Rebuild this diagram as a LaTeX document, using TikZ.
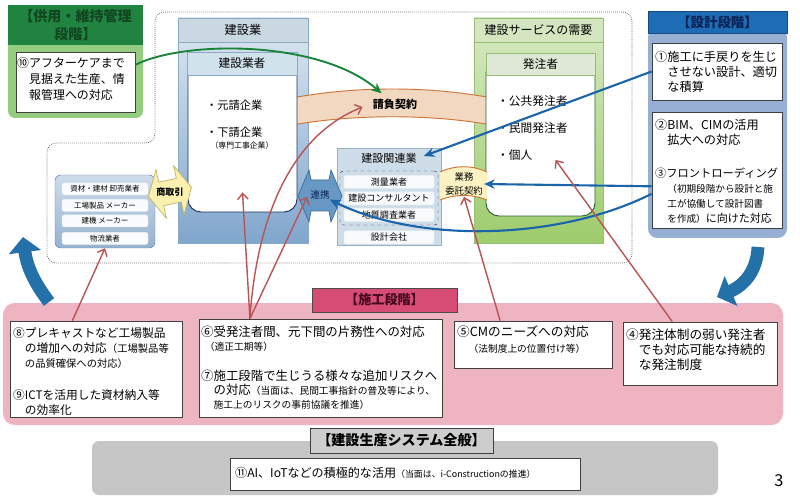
\documentclass[tikz,border=0pt]{standalone}
\usepackage{fontspec}
\setmainfont{Noto Sans CJK JP}
\usetikzlibrary{positioning,fit,calc,arrows.meta}

\definecolor{grnDark}{RGB}{32,132,64}
\definecolor{grnBody}{RGB}{148,205,128}
\definecolor{grnText}{RGB}{18,70,32}
\definecolor{blueDark}{RGB}{30,108,182}
\definecolor{blueBody}{RGB}{150,175,210}
\definecolor{blueText}{RGB}{10,36,86}
\definecolor{pinkBody}{RGB}{238,180,194}
\definecolor{pinkHead}{RGB}{214,76,116}
\definecolor{pinkText}{RGB}{70,10,30}
\definecolor{grayBody}{RGB}{198,198,198}
\definecolor{grayHead}{RGB}{205,205,205}
\definecolor{arrRed}{RGB}{186,84,84}
\definecolor{arrBlue}{RGB}{26,100,170}
\definecolor{arrGreen}{RGB}{24,132,56}
\definecolor{bigBlue}{RGB}{36,112,168}
\definecolor{kenTop}{RGB}{222,232,241}
\definecolor{kenBot}{RGB}{128,166,205}
\definecolor{kenHead}{RGB}{202,216,226}
\definecolor{kenHead2}{RGB}{208,226,236}
\definecolor{kenLine}{RGB}{140,170,198}
\definecolor{navyLine}{RGB}{30,50,95}
\definecolor{juTop}{RGB}{216,233,196}
\definecolor{juBot}{RGB}{158,204,108}
\definecolor{juHead}{RGB}{212,229,192}
\definecolor{juHead2}{RGB}{222,232,212}
\definecolor{juLine}{RGB}{150,190,120}
\definecolor{grnLine}{RGB}{40,100,50}
\definecolor{bandOr}{RGB}{242,216,192}
\definecolor{bandLine}{RGB}{206,116,56}
\definecolor{bandYel}{RGB}{252,242,196}
\definecolor{yelArr}{RGB}{250,240,176}
\definecolor{yelLine}{RGB}{196,178,100}
\definecolor{linkBlue}{RGB}{104,152,196}
\definecolor{linkLine}{RGB}{60,108,158}
\definecolor{kanFill}{RGB}{206,221,232}
\definecolor{kanLine}{RGB}{150,176,200}
\definecolor{supTop}{RGB}{206,220,234}
\definecolor{supBot}{RGB}{150,178,208}
\definecolor{supLine}{RGB}{100,132,172}

\newcommand\fsz[2]{\fontsize{#1pt}{#2pt}\selectfont}

\tikzset{
  area/.style={inner sep=0pt},
  wbox/.style={inner sep=0pt, draw=black!75, fill=white, line width=0.7pt},
  lbl/.style={inner sep=0pt, align=left, anchor=north west},
  supitem/.style={inner sep=0pt, minimum width=25.8mm, minimum height=3.6mm, fill=white!88!supTop, draw=white!60!supTop, rounded corners=2pt, font=\fsz{6.4}{8}},
  kanitem/.style={inner sep=0pt, minimum width=27mm, minimum height=3.9mm, fill=white!85!kanFill, draw=white!60!kanFill, rounded corners=2pt, font=\fsz{7.7}{9}},
  redarr/.style={draw=arrRed, line width=1.2pt, -{Straight Barb[length=5pt,width=9pt]}},
  bluearr/.style={draw=arrBlue, line width=1.8pt, -{Stealth[length=9pt,width=8pt]}},
  grnarr/.style={draw=arrGreen, line width=1.6pt, -{Stealth[length=9pt,width=8pt]}},
  bigarr/.style={draw=bigBlue, line width=11pt, -{Triangle[length=13pt,width=27pt]}},
  bandedge/.style={draw=bandLine, line width=0.8pt},
}

\begin{document}
\begin{tikzpicture}[x=0.3mm, y=-0.3mm]
\useasboundingbox (0,0) rectangle (800,499);
\fill[white] (0,0) rectangle (800,499);

% dotted frame
\draw[densely dotted, black!55, line width=0.7pt, rounded corners=8pt]
  (155,143) -- (155,12) -- (632,12) -- (632,263) -- (47,263) -- (47,143) -- cycle;

% construction industry / demand
\node (kenbody) [area, fit={(178,18) (308,243)}, draw=kenLine, top color=kenTop, bottom color=kenBot] {};
\node (kenhead) [area, fit={(178,18) (308,42)}, draw=kenLine, fill=kenHead] {};
\node (kenheadtxt) [font=\fsz{10.4}{12}] at (kenhead) {建設業};
\node (jubody) [area, fit={(474,18) (603,243)}, draw=juLine, top color=juTop, bottom color=juBot] {};
\node (juhead) [area, fit={(474,18) (603,42)}, draw=juLine, fill=juHead] {};
\node (juheadtxt) [font=\fsz{10.2}{12}] at (juhead) {建設サービスの需要};

% contract band
\fill[bandOr] (292,98) .. controls (355,86) and (430,86) .. (492,98) -- (492,125) .. controls (430,114) and (355,114) .. (292,125) -- cycle;
\draw[bandedge] (292,98) .. controls (355,86) and (430,86) .. (492,98);
\draw[bandedge] (492,125) .. controls (430,114) and (355,114) .. (292,125);
\node (ukeoi) [inner sep=1pt, font=\fsz{9.4}{11}\bfseries] at (395,104) {請負契約};

\node (gyosha) [area, fit={(188,60) (297,212)}, draw=navyLine, fill=white, line width=0.8pt, rounded corners=11pt] {};
\node (gyoshahead) [area, fit={(187,52) (297,75)}, draw=kenLine, fill=kenHead2] {};
\node (gyoshatxt) [font=\fsz{10}{12}] at (gyoshahead) {建設業者};
\node (hachu) [area, fit={(486,60) (595,216)}, draw=grnLine, fill=white, line width=0.8pt, rounded corners=11pt] {};
\node (hachuhead) [area, fit={(486,53) (595,75)}, draw=juLine, fill=juHead2] {};
\node (hachutxt) [font=\fsz{10}{12}] at (hachuhead) {発注者};

\node (moto) [anchor=west, inner sep=0pt, font=\fsz{9.6}{12}] at (206,105) {・元請企業};
\node (shita) [anchor=west, inner sep=0pt, font=\fsz{9.6}{12}] at (206,132) {・下請企業};
\node (senmon) [inner sep=0pt, font=\fsz{6.7}{8}] at (242,146) {（専門工事企業）};

\node (kokyo) [anchor=west, inner sep=0pt, font=\fsz{10}{12}] at (497,101) {・公共発注者};
\node (minkan) [anchor=west, inner sep=0pt, font=\fsz{10}{12}] at (497,128) {・民間発注者};
\node (kojin) [anchor=west, inner sep=0pt, font=\fsz{10}{12}] at (497,155) {・個人};

% related industries
\node (kanrenbox) [area, fit={(337,148) (441,245)}, draw=kanLine, fill=kanFill] {};
\node (kanren) [inner sep=1pt, font=\fsz{9.4}{11}] at (389,158) {建設関連業};
\node (sokuryo) [kanitem] at (389,182) {測量業者};
\node (consul) [kanitem, below=0.9mm of sokuryo] {建設コンサルタント};
\node (chishitsu) [kanitem, below=0.9mm of consul] {地質調査業者};
\node (sekkeigaisha) [kanitem, below=2.7mm of chishitsu] {設計会社};
\node (kanrengrp) [area, fit={(340,171) (438,225)}, draw=navyLine, dashed, rounded corners=3pt] {};

% consignment band
\fill[bandYel] (440,172) .. controls (455,165) and (472,165) .. (487,172) -- (487,200) .. controls (472,194) and (455,194) .. (440,200) -- cycle;
\draw[bandedge] (440,172) .. controls (455,165) and (472,165) .. (487,172);
\draw[bandedge] (487,200) .. controls (472,194) and (455,194) .. (440,200);
\node (gyomu) [inner sep=1pt, align=center, font=\fsz{8}{12}] at (464,184) {業務\\委託契約};

% cooperation arrow
\filldraw[fill=linkBlue, draw=linkLine, line width=0.6pt]
  (298,196) -- (309,170) -- (311,180) -- (329,180) -- (331,170) -- (342,196)
  -- (331,222) -- (329,211) -- (311,211) -- (309,222) -- cycle;
\node (renkei) [inner sep=0pt, font=\fsz{8.2}{10}, text=blueText] at (320,195) {連携};

% suppliers
\node (supplier) [area, fit={(55,175) (155,248)}, draw=supLine, rounded corners=5pt, top color=supTop, bottom color=supBot] {};
\node (shizai) [supitem] at (105,189) {資材・建材 卸売業者};
\node (kojo) [supitem, below=1.2mm of shizai] {工場製品 メーカー};
\node (kenki) [supitem, below=0.9mm of kojo] {建機 メーカー};
\node (butsuryu) [supitem, below=1.5mm of kenki] {物流業者};

% trade arrow
\begin{scope}[shift={(170,192)}, rotate=12]
  \filldraw[fill=yelArr, draw=yelLine, line width=0.6pt]
    (-22,0) -- (-9,-25) -- (-9,-12) -- (9,-12) -- (9,-25) -- (22,0)
    -- (9,25) -- (9,12) -- (-9,12) -- (-9,25) -- cycle;
\end{scope}
\node (shotori) [inner sep=0pt, font=\fsz{7.7}{9}\bfseries] at (170,192) {商取引};

% maintenance stage
\node (ijibody) [area, fit={(8,40) (143,118)}, fill=grnBody, rounded corners=6pt] {};
\node (ijihead) [area, fit={(8,5) (143,45)}, fill=grnDark] {};
\node (ijiheadtxt) [align=center, text=grnText, font=\fsz{12}{15.3}\bfseries] at (ijihead) {【供用・維持管理\\段階】};
\node (ten) [wbox, fit={(16,52) (135,112)}] {};
\node (tentxt) [lbl, font=\fsz{10.2}{13.6}] at (17,57) {⑩アフターケアまで\\\hspace*{1em}見据えた生産、情\\\hspace*{1em}報管理への対応};

% design stage
\node (sekkeibody) [area, fit={(648,28) (787,238)}, fill=blueBody, rounded corners=8pt] {};
\node (sekkeihead) [area, fit={(648,11) (787,33)}, fill=blueDark, draw=blueDark!70!black] {};
\node (sekkeiheadtxt) [text=blueText, font=\fsz{11.5}{13}\bfseries] at (sekkeihead) {【設計段階】};
\node (design1) [wbox, fit={(652,43) (782,100)}] {};
\node (design1txt) [lbl, font=\fsz{10.4}{12.8}] at (655,51) {①施工に手戻りを生じ\\\hspace*{1em}させない設計、適切\\\hspace*{1em}な積算};
\node (design2) [wbox, fit={(652,112) (782,228)}] {};
\node (design2txt) [lbl, font=\fsz{10.4}{12.8}] at (655,119) {②BIM、CIMの活用\\\hspace*{1em}拡大への対応\\[15pt]
  {\fsz{9.6}{12.8}③フロントローディング}\\
  \hspace*{1em}{\fsz{8.2}{10}（初期段階から設計と施}\\
  \hspace*{1em}{\fsz{8.2}{10}工が協働して設計図書}\\
  \hspace*{1em}{\fsz{8.2}{10}を作成）}{\fsz{9.4}{12}に向けた対応}};

% construction stage
\node (pinkarea) [area, fit={(3,303) (783,425)}, fill=pinkBody, rounded corners=10pt] {};
\node (sekohead) [area, fit={(312,288) (457,312)}, fill=pinkHead, draw=black!70] {};
\node (sekoheadtxt) [text=pinkText, font=\fsz{11.2}{13}\bfseries] at (sekohead) {【施工段階】};
\node (hachi) [wbox, fit={(10,321) (182,417)}] {};
\node (hachitxt) [lbl, font=\fsz{10}{12.8}] at (13,327) {⑧プレキャストなど工場製品\\
  \hspace*{1em}の増加への対応{\fsz{8.8}{10}（工場製品等}\\
  \hspace*{1em}{\fsz{8.8}{10}の品質確保への対応）}\\[15pt]
  ⑨ICTを活用した資材納入等\\
  \hspace*{1em}の効率化};
\node (roku) [wbox, fit={(199,319) (442,417)}] {};
\node (rokutxt) [lbl, font=\fsz{10.6}{12}] at (201,326) {⑥受発注者間、元下間の片務性への対応\\
  \hspace*{0.3em}{\fsz{8.3}{10}（適正工期等）}\\[13pt]
  ⑦施工段階で生じうる様々な追加リスクへ\\
  \hspace*{1em}の対応{\fsz{8.3}{10}（当面は、民間工事指針の普及等により、}\\
  \hspace*{1em}{\fsz{8.3}{10}施工上のリスクの事前協議を推進）}};
\node (go) [wbox, fit={(454,321) (612,368)}] {};
\node (gotxt) [lbl, font=\fsz{10.8}{13}] at (457,326) {⑤CMのニーズへの対応\\
  \hspace*{0.9em}{\fsz{8.3}{10}（法制度上の位置付け等）}};
\node (yon) [wbox, fit={(623,322) (777,385)}] {};
\node (yontxt) [lbl, font=\fsz{10.8}{12.8}] at (626,329) {④発注体制の弱い発注者\\
  \hspace*{1em}でも対応可能な持続的\\
  \hspace*{1em}な発注制度};

% whole system
\node (grayarea) [area, fit={(92,441) (718,495)}, fill=grayBody, rounded corners=6pt] {};
\node (zenhead) [area, fit={(310,428) (493,453)}, fill=grayHead, draw=black!75] {};
\node (zenheadtxt) [font=\fsz{12}{14}\bfseries] at (zenhead) {【建設生産システム全般】};
\node (juichi) [wbox, fit={(230,458) (580,490)}] {};
\node (juichitxt) [anchor=west, inner sep=0pt, font=\fsz{10.3}{12}] at (235,473) {⑪AI、IoTなどの積極的な活用{\fsz{7.6}{10}（当面は、i-Constructionの推進）}};

\node (pageno) [inner sep=0pt, font=\fsz{14}{16}] at (779,481) {3};

% big cycle arrows
\draw[bigarr] (49,302) .. controls (36,285) and (27,268) .. (23,237);
\draw[bigarr] (758,247) .. controls (757,270) and (745,285) .. (717,297);

% connectors
\draw[grnarr] (ten.16) .. controls (185,40) and (320,40) .. ($(ukeoi.north west)+(10,-4)$);
\draw[bluearr] (design1.west) -- ($(kanren.east)+(6,-2)$);
\draw[bluearr] (design2.194) -- (gyomu.east);
\draw[bluearr] (design2.200) .. controls (560,240) and (420,244) .. (renkei.south east);
\draw[redarr] (hachi.116) -- (supplier.south);
\draw[redarr] (roku.145) -- ($(gyosha.south)+(0,-20)$);
\draw[redarr] (roku.145) -- ($(renkei.south west)+(-3,-3)$);
\draw[redarr] (roku.145) .. controls (255,240) and (280,140) .. ($(ukeoi.west)+(-9,3)$);
\draw[redarr] (go.144) -- (gyomu.south);
\draw[redarr] (yon.131) -- ($(hachu.center)+(15,22)$);
\end{tikzpicture}
\end{document}
